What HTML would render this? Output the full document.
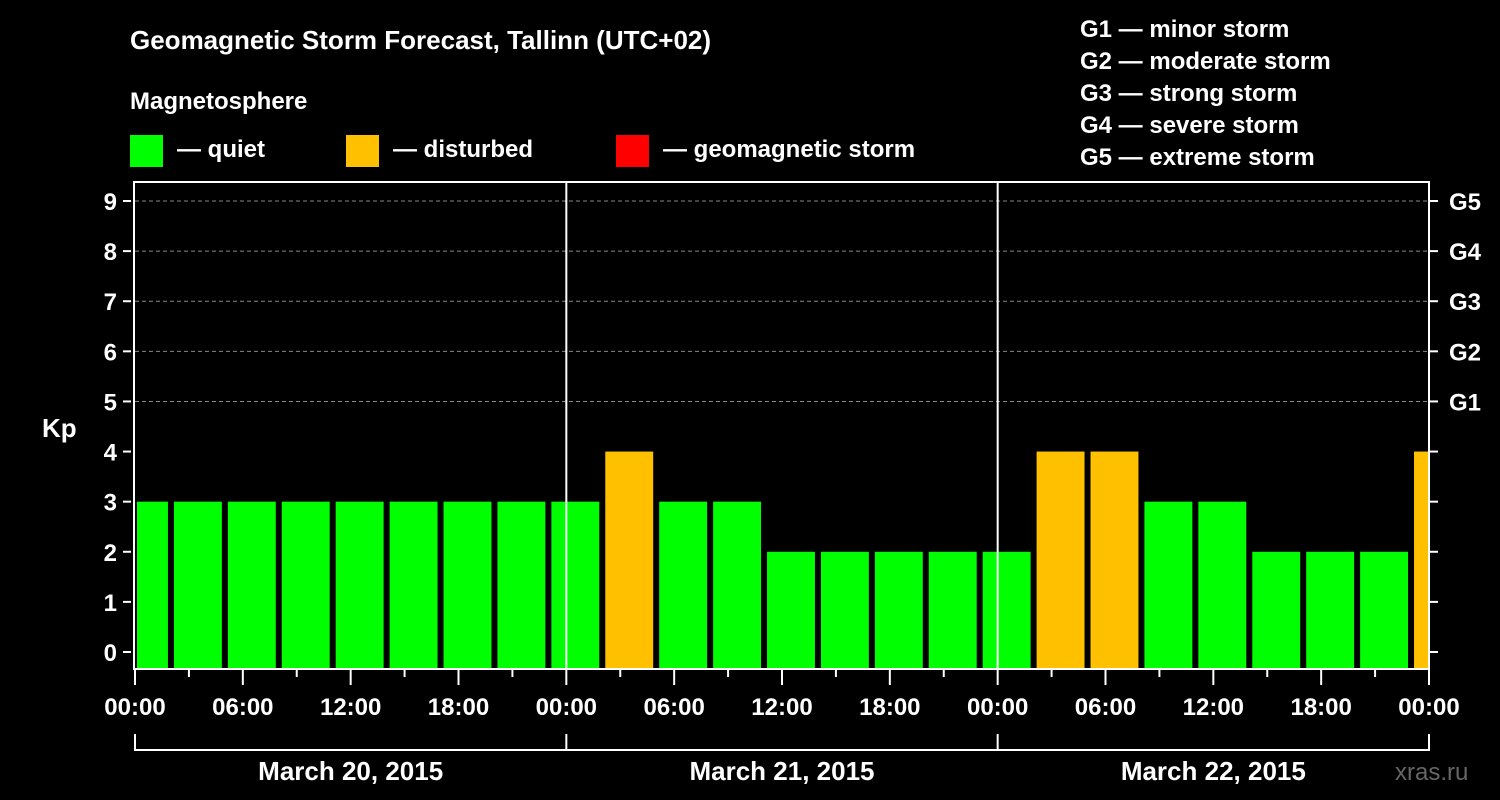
<!DOCTYPE html>
<html><head><meta charset="utf-8"><style>
html,body{margin:0;padding:0;background:#000;}
svg{display:block;font-family:"Liberation Sans",Arial,sans-serif;font-weight:bold;}
</style></head><body>
<svg id="chart" width="1500" height="800" viewBox="0 0 1500 800">
<rect x="0" y="0" width="1500" height="800" fill="#000"/>
<text x="130" y="49" font-size="26" fill="#fff">Geomagnetic Storm Forecast, Tallinn (UTC+02)</text>
<text x="130" y="109" font-size="24" fill="#fff">Magnetosphere</text>
<g><rect x="130" y="135" width="33" height="32" fill="#00ff00"/><text x="177" y="157" font-size="24" fill="#fff">— quiet</text></g>
<g><rect x="346" y="135" width="33" height="32" fill="#ffc000"/><text x="393" y="157" font-size="24" fill="#fff">— disturbed</text></g>
<g><rect x="616" y="135" width="33" height="32" fill="#ff0000"/><text x="663" y="157" font-size="24" fill="#fff">— geomagnetic storm</text></g>
<g font-size="24" fill="#fff">
<text x="1080" y="37">G1 — minor storm</text>
<text x="1080" y="69">G2 — moderate storm</text>
<text x="1080" y="101">G3 — strong storm</text>
<text x="1080" y="133">G4 — severe storm</text>
<text x="1080" y="165">G5 — extreme storm</text>
</g>
<text x="42" y="437" font-size="26" fill="#fff">Kp</text>
<text x="1395" y="780" font-size="24" fill="#666" font-weight="normal">xras.ru</text>
<g id="grid"></g><g id="bars"></g><g id="axes"></g>
</svg>
<script>
const kpValues=[3,3,3,3,3,3,3,3,3,4,3,3,2,2,2,2,2,4,4,3,3,2,2,2,4];
const barStartHour=-1;
const barHours=3;
const yTicks=[0,1,2,3,4,5,6,7,8,9];
const gLabels=['G1','G2','G3','G4','G5'];
const gLevels=[5,6,7,8,9];
const xTickLabels=['00:00','06:00','12:00','18:00','00:00','06:00','12:00','18:00','00:00','06:00','12:00','18:00','00:00'];
const dayLabels=['March 20, 2015','March 21, 2015','March 22, 2015'];
const totalHours=72;
const L=135,R=1429,T=182,B=668;
const X=h=>L+(R-L)*h/totalHours;
const Y=v=>652-(652-201)*v/9;
const NS='http://www.w3.org/2000/svg';
function mk(tag,attrs,parent){const e=document.createElementNS(NS,tag);for(const k in attrs)e.setAttribute(k,attrs[k]);document.getElementById(parent).appendChild(e);return e;}
const color=v=>v>=5?'#ff0000':(v>=4?'#ffc000':'#00ff00');
yTicks.forEach(v=>{if(v>=5){const l=mk('line',{x1:L,x2:R,y1:Y(v),y2:Y(v),stroke:'#888','stroke-dasharray':'4,3','stroke-width':1},'grid');

}});
kpValues.forEach((v,i)=>{const h0=Math.max(0,barStartHour+i*barHours),h1=Math.min(totalHours,barStartHour+(i+1)*barHours);
const x0=X(h0)+(h0===0?2:3),x1=X(h1)-(h1===totalHours?0:3);
const r=mk('rect',{x:x0,y:Y(v),width:x1-x0,height:B-Y(v),fill:color(v)},'bars');

});
// day separators
for(let d=1;d<3;d++){const l=mk('line',{x1:X(d*24),x2:X(d*24),y1:T,y2:B,stroke:'#fff','stroke-width':2},'axes');

}
const fr=mk('rect',{x:L-1,y:T,width:R-L+1,height:B-T+1,fill:'none',stroke:'#fff','stroke-width':2},'axes');


yTicks.forEach(v=>{mk('line',{x1:L-12,x2:L-4,y1:Y(v),y2:Y(v),stroke:'#fff','stroke-width':2},'axes');
mk('line',{x1:R+1,x2:R+9,y1:Y(v),y2:Y(v),stroke:'#fff','stroke-width':2},'axes');
const t=mk('text',{x:L-18,y:Y(v)+9,'font-size':24,fill:'#fff','text-anchor':'end'},'axes');t.textContent=v;

});
gLabels.forEach((g,i)=>{const t=mk('text',{x:1449,y:Y(gLevels[i])+9,'font-size':24,fill:'#fff'},'axes');t.textContent=g;

});
for(let h=0;h<=totalHours;h+=3){const major=h%6===0;mk('line',{x1:X(h),x2:X(h),y1:B+2,y2:B+(major?17:9),stroke:'#fff','stroke-width':2},'axes');}
xTickLabels.forEach((s,i)=>{const t=mk('text',{x:X(i*6),y:715,'font-size':24,fill:'#fff','text-anchor':'middle'},'axes');t.textContent=s;

});
mk('path',{d:`M${X(0)},734 V750 H${X(72)} V734 M${X(24)},734 V750 M${X(48)},734 V750`,stroke:'#fff','stroke-width':2,fill:'none'},'axes');
dayLabels.forEach((s,i)=>{const t=mk('text',{x:X(i*24+12),y:780,'font-size':26,fill:'#fff','text-anchor':'middle'},'axes');t.textContent=s;

});
</script>
</body></html>
